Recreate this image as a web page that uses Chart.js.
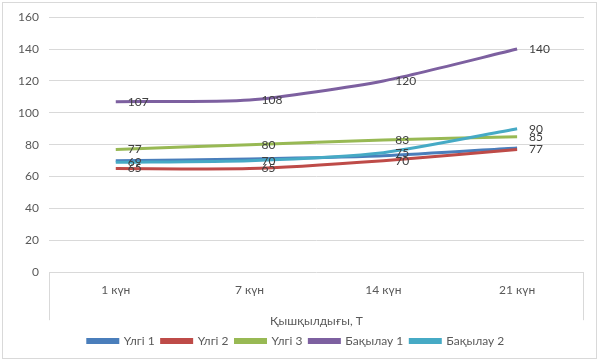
<!DOCTYPE html>
<html><head><meta charset="utf-8">
<script src="https://cdn.jsdelivr.net/npm/chart.js@4/dist/chart.umd.min.js"></script>
<style>html,body{margin:0;padding:0;background:#fff}#w{width:599px;height:361px;position:relative}</style>
</head><body><div id="w"><canvas id="c"></canvas></div>
<script>
const categories = ['1 күн', '7 күн', '14 күн', '21 күн'];
const seriesNames = ['Үлгі 1', 'Үлгі 2', 'Үлгі 3', 'Бақылау 1', 'Бақылау 2'];
const ulgi1 = [70, 71, 73, 78];
const ulgi2 = [65, 65, 70, 77];
const ulgi3 = [77, 80, 83, 85];
const bakylau1 = [107, 108, 120, 140];
const bakylau2 = [69, 70, 75, 90];
const yTicks = [0, 20, 40, 60, 80, 100, 120, 140, 160];
const axisTitle = 'Қышқылдығы, Т';

const colors = ['#4A7EBB', '#BE4B48', '#98B954', '#7D60A0', '#46AAC5'];
const values = [ulgi1, ulgi2, ulgi3, bakylau1, bakylau2];
const showLabels = [false, true, true, true, true];

const FONT = 'Lato, "Open Sans", sans-serif';

const frame = {
  id: 'frame',
  beforeDraw(chart) {
    const c = chart.ctx;
    c.save();
    c.strokeStyle = '#d9d9d9'; c.lineWidth = 1;
    c.strokeRect(2.5, 2.5, chart.width - 5, chart.height - 5);
    const a = chart.chartArea;
    c.beginPath();
    c.moveTo(Math.round(a.left) + 0.5, a.bottom);
    c.lineTo(Math.round(a.left) + 0.5, a.bottom + 48);
    c.moveTo(Math.round(a.right) - 0.5, a.bottom);
    c.lineTo(Math.round(a.right) - 0.5, a.bottom + 48);
    c.stroke();
    c.restore();
  }
};

const dataLabels = {
  id: 'dataLabels',
  afterDatasetsDraw(chart) {
    const c = chart.ctx;
    c.save();
    c.font = '12px ' + FONT;
    c.fillStyle = '#404040';
    c.textAlign = 'left';
    c.textBaseline = 'middle';
    chart.data.datasets.forEach((ds, i) => {
      if (!showLabels[i]) return;
      const meta = chart.getDatasetMeta(i);
      meta.data.forEach((pt, j) => {
        c.fillText(String(ds.data[j]), pt.x + 12, pt.y);
      });
    });
    c.restore();
  }
};

new Chart(document.getElementById('c'), {
  type: 'line',
  data: {
    labels: categories,
    datasets: seriesNames.map((n, i) => ({
      label: n,
      data: values[i],
      borderColor: colors[i],
      backgroundColor: colors[i],
      borderWidth: 3,
      pointRadius: 0,
      pointHoverRadius: 0,
      tension: 0.22,
      fill: false,
      order: 5 - i
    }))
  },
  options: {
    responsive: true,
    maintainAspectRatio: false,
    animation: false,
    layout: { padding: { left: 8, right: 15, top: 10, bottom: 4 } },
    plugins: {
      tooltip: { enabled: false },
      legend: {
        position: 'bottom',
        labels: {
          font: { family: FONT, size: 12 },
          color: '#595959',
          boxWidth: 30,
          boxHeight: 3,
          padding: 7,
          sort: (a, b) => a.datasetIndex - b.datasetIndex
        }
      }
    },
    scales: {
      x: {
        offset: true,
        grid: { display: false },
        border: { display: false },
        ticks: { font: { family: FONT, size: 12 }, color: '#595959', padding: 3 },
        title: { display: true, text: axisTitle, font: { family: FONT, size: 12 }, color: '#595959', padding: { top: 13, bottom: 0 } }
      },
      y: {
        min: 0, max: 160,
        afterBuildTicks: (s) => { s.ticks = yTicks.map(v => ({ value: v })); },
        grid: { color: '#d9d9d9', lineWidth: 1, drawTicks: false },
        border: { display: false },
        ticks: { font: { family: FONT, size: 12 }, color: '#595959', padding: 10 }
      }
    }
  },
  plugins: [frame, dataLabels]
});
</script></body></html>
